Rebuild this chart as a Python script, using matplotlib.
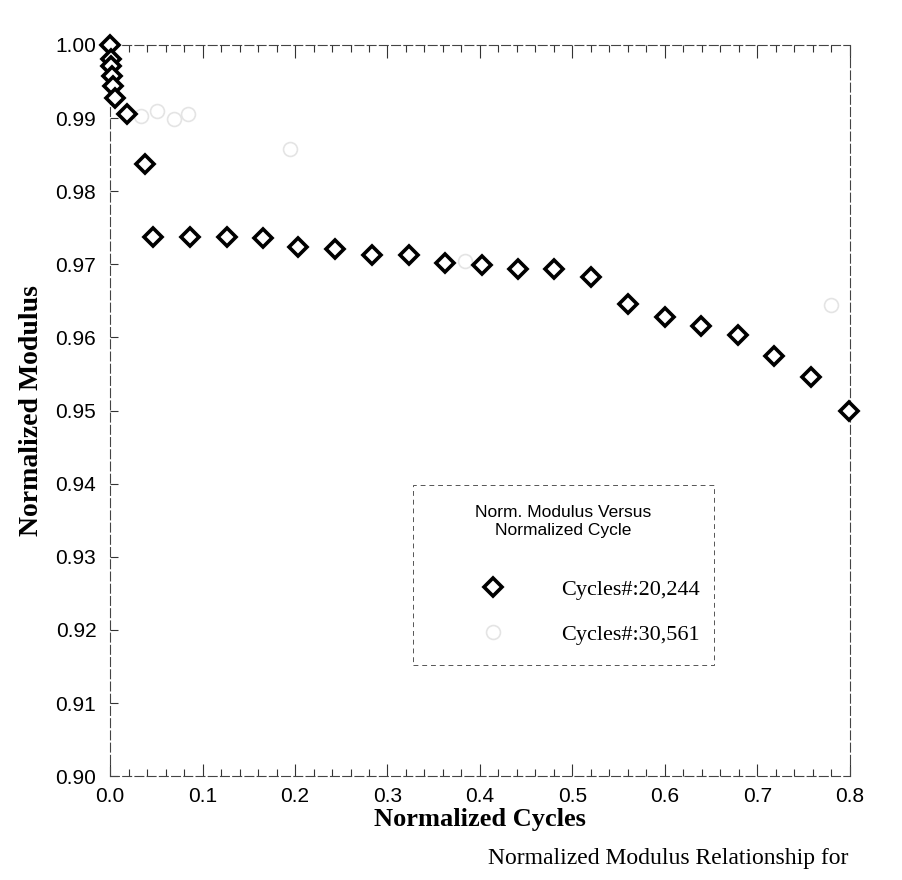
import numpy as np
import matplotlib.pyplot as plt
from matplotlib.ticker import MultipleLocator, FormatStrFormatter

# normalized cycles / normalized modulus
cyc_20244 = [0.0, 0.0005, 0.001, 0.002, 0.003, 0.005, 0.018, 0.038,
             0.046, 0.086, 0.126, 0.165, 0.203, 0.243, 0.283, 0.323, 0.362, 0.402,
             0.441, 0.480, 0.520, 0.560, 0.600, 0.639, 0.679, 0.718, 0.758, 0.799]
mod_20244 = [1.000, 0.9981, 0.9971, 0.9957, 0.9944, 0.9927, 0.9906, 0.9837,
             0.9737, 0.9737, 0.9737, 0.9736, 0.9724, 0.9721, 0.9713, 0.9712, 0.9702, 0.9699,
             0.9694, 0.9693, 0.9683, 0.9646, 0.9628, 0.9615, 0.9603, 0.9574, 0.9546, 0.9499]

# second test, almost washed out in the scan
cyc_30561 = [0.033, 0.051, 0.069, 0.084, 0.194, 0.384, 0.780]
mod_30561 = [0.9903, 0.9910, 0.9899, 0.9905, 0.9858, 0.9705, 0.9644]

legend_title = "Norm. Modulus Versus\nNormalized Cycle\n"
label_a = "Cycles#:20,244"
label_b = "Cycles#:30,561"

sans = "Liberation Sans"
serif = "Liberation Serif"

fig = plt.figure(figsize=(9.03, 8.80), dpi=100)
ax = fig.add_axes([0.122, 0.118, 0.819, 0.831])

ax.plot(cyc_30561, mod_30561, "o", markersize=10, markerfacecolor="none",
        markeredgecolor="#e4e4e4", markeredgewidth=1.2, label=label_b, clip_on=False)
ax.plot(cyc_20244, mod_20244, "D", markersize=9.5, markerfacecolor="white",
        markeredgecolor="black", markeredgewidth=2.6, label=label_a, clip_on=False, zorder=3)

ax.set_xlim(0, 0.8)
ax.set_ylim(0.90, 1.00)
ax.xaxis.set_major_locator(MultipleLocator(0.1))
ax.xaxis.set_minor_locator(MultipleLocator(0.02))
ax.yaxis.set_major_locator(MultipleLocator(0.01))
ax.xaxis.set_major_formatter(FormatStrFormatter("%.1f"))
ax.yaxis.set_major_formatter(FormatStrFormatter("%.2f"))
ax.tick_params(axis="x", which="both", direction="in", top=True, colors="#333333",
               labelcolor="black", labelsize=15, pad=8)
ax.tick_params(axis="x", which="major", length=9, width=0.8)
ax.tick_params(axis="x", which="minor", length=5, width=0.8)
ax.tick_params(axis="y", which="major", direction="in", length=6, width=0.8,
               colors="#333333", labelcolor="black", labelsize=15, pad=10)
for lab in ax.get_xticklabels() + ax.get_yticklabels():
    lab.set_fontfamily(sans)

for s in ax.spines.values():
    s.set_linestyle((0, (8, 3)))
    s.set_linewidth(0.8)
    s.set_edgecolor("#444444")

ax.set_xlabel("Normalized Cycles", fontfamily=serif, fontweight="bold", fontsize=19, labelpad=1)
ax.set_ylabel("Normalized Modulus", fontfamily=serif, fontweight="bold", fontsize=20, labelpad=8)

handles, labels = ax.get_legend_handles_labels()
leg = ax.legend(handles[::-1], labels[::-1], title=legend_title,
                bbox_to_anchor=(0.394, 0.167, 0.437, 0.246), loc="upper left", mode="expand",
                prop={"family": serif, "size": 16}, labelspacing=1.1, borderpad=0.9,
                handlelength=5.4, handletextpad=0.4, fancybox=False, framealpha=1)
leg.get_title().set_fontfamily(sans)
leg.get_title().set_fontsize(12.5)
leg.get_title().set_multialignment("center")
frame = leg.get_frame()
frame.set_linestyle((0, (5, 4)))
frame.set_linewidth(0.7)
frame.set_edgecolor("#555555")

# chart caption under the x label
fig.text(0.74, 0.012, "Normalized Modulus Relationship for", fontfamily=serif,
         fontsize=17, ha="center", va="bottom")

plt.savefig("out.png", dpi=100)
